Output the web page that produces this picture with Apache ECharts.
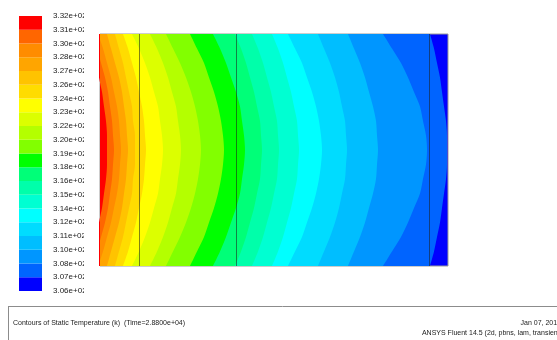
<!DOCTYPE html>
<html>
<head>
<meta charset="utf-8">
<script src="https://cdn.jsdelivr.net/npm/echarts@6/dist/echarts.min.js"></script>
<style>
  html, body { margin: 0; padding: 0; background: #ffffff; }
  #chart { width: 557px; height: 340px; }
</style>
</head>
<body>
<div id="chart"></div>
<script>
// Sample rows across the domain height, top wall to bottom wall
const rows = ['r00', 'r01', 'r02', 'r03', 'r04', 'r05', 'r06', 'r07', 'r08',
              'r09', 'r10', 'r11', 'r12', 'r13', 'r14', 'r15', 'r16'];

// Contour band colours, hottest (left wall) to coldest (right wall)
const bandColors = [
  '#ff0000', '#ff6600', '#ff8c00', '#ffa500', '#ffc300',
  '#ffdc00', '#ffff00', '#dcff00', '#b4ff00', '#82ff00',
  '#00ff00', '#00ff78', '#00ffaa', '#00ffd2', '#00ffff',
  '#00dcff', '#00beff', '#0096ff', '#0064ff', '#0000ff'
];

// Colour-bar labels, bottom to top (K)
const legendLabels = [
  '3.06e+02', '3.07e+02', '3.08e+02', '3.10e+02', '3.11e+02', '3.12e+02', '3.14e+02',
  '3.15e+02', '3.16e+02', '3.18e+02', '3.19e+02', '3.20e+02', '3.22e+02', '3.23e+02',
  '3.24e+02', '3.26e+02', '3.27e+02', '3.28e+02', '3.30e+02', '3.31e+02', '3.32e+02'
];

// Isotherm positions (distance from the left wall) on each sample row;
// isotherm k separates band k from band k+1
const iso01 = [-10, -7, -3, -1, 2, 4, 6, 7, 7, 7, 6, 4, 2, -1, -3, -7, -10];
const iso02 = [-8, -3, 1, 5, 8, 10, 12, 13, 14, 13, 12, 10, 8, 5, 1, -3, -8];
const iso03 = [-2, 3, 7, 11, 14, 17, 19, 20, 21, 20, 19, 17, 14, 11, 7, 3, -2];
const iso04 = [7, 11, 15, 19, 22, 24, 26, 27, 28, 27, 26, 24, 22, 19, 15, 11, 7];
const iso05 = [15, 19, 23, 26, 29, 32, 33, 35, 35, 35, 33, 32, 29, 26, 23, 19, 15];
const iso06 = [23, 28, 32, 36, 39, 42, 44, 45, 46, 45, 44, 42, 39, 36, 32, 28, 23];
const iso07 = [32, 39, 45, 50, 54, 58, 60, 62, 63, 62, 60, 58, 54, 50, 45, 39, 32];
const iso08 = [50, 57, 63, 68, 72, 76, 78, 80, 81, 80, 78, 76, 72, 68, 63, 57, 50];
const iso09 = [66, 73, 80, 86, 91, 95, 98, 100, 101, 100, 98, 95, 91, 86, 80, 73, 66];
const iso10 = [90, 97, 104, 109, 114, 118, 121, 123, 124, 123, 121, 118, 114, 109, 104, 97, 90];
const iso11 = [113, 120, 126, 131, 136, 140, 142, 144, 145, 144, 142, 140, 136, 131, 126, 120, 113];
const iso12 = [135, 141, 146, 150, 154, 157, 160, 161, 162, 161, 160, 157, 154, 150, 146, 141, 135];
const iso13 = [152, 158, 163, 167, 171, 174, 177, 178, 179, 178, 177, 174, 171, 167, 163, 158, 152];
const iso14 = [172, 178, 183, 187, 191, 194, 197, 198, 199, 198, 197, 194, 191, 187, 183, 178, 172];
const iso15 = [188, 195, 202, 207, 212, 216, 219, 221, 222, 221, 219, 216, 212, 207, 202, 195, 188];
const iso16 = [218, 224, 230, 235, 239, 242, 245, 246, 247, 246, 245, 242, 239, 235, 230, 224, 218];
const iso17 = [248, 254, 260, 265, 269, 273, 276, 277, 278, 277, 276, 273, 269, 265, 260, 254, 248];
const iso18 = [283, 292, 301, 308, 314, 320, 323, 326, 327, 326, 323, 320, 314, 308, 301, 292, 283];
const iso19 = [330, 334, 337, 340, 342, 344, 346, 347, 347, 347, 346, 344, 342, 340, 337, 334, 330];

// Interior zone boundaries of the mesh
const zoneEdges = [39, 136, 329];

// Domain width in the same units as the isotherm positions
const domainWidth = 348;

const footerTitle = 'Contours of Static Temperature (k)  (Time=2.8800e+04)';
const footerDate = 'Jan 07, 2014';
const footerSolver = 'ANSYS Fluent 14.5 (2d, pbns, lam, transient)';

const isotherms = [iso01, iso02, iso03, iso04, iso05, iso06, iso07, iso08, iso09, iso10,
                   iso11, iso12, iso13, iso14, iso15, iso16, iso17, iso18, iso19];

const FONT = '"Liberation Sans", Arial, sans-serif';

// Each isotherm fills from the left wall with its hot-side colour; colder ones are drawn first
const contourSeries = [];
for (let k = isotherms.length - 1; k >= 0; k--) {
  contourSeries.push({
    type: 'line',
    xAxisIndex: 0,
    yAxisIndex: 0,
    data: isotherms[k],
    smooth: 0.3,
    symbol: 'none',
    showSymbol: false,
    silent: true,
    lineStyle: { opacity: 0 },
    areaStyle: { color: bandColors[k], opacity: 1 }
  });
}
contourSeries[contourSeries.length - 1].markLine = {
  silent: true,
  symbol: 'none',
  animation: false,
  label: { show: false },
  lineStyle: { color: 'rgba(30,30,30,0.55)', width: 1, type: 'solid' },
  data: zoneEdges.map(x => ({ xAxis: x }))
};

// Colour bar: one stacked block per band, coldest at the bottom
const legendSeries = [];
for (let k = bandColors.length - 1; k >= 0; k--) {
  legendSeries.push({
    type: 'bar',
    xAxisIndex: 1,
    yAxisIndex: 1,
    stack: 'colourbar',
    barWidth: '100%',
    silent: true,
    data: [1],
    itemStyle: { color: bandColors[k] }
  });
}

const chart = echarts.init(document.getElementById('chart'), null, { renderer: 'canvas' });
chart.setOption({
  animation: false,
  backgroundColor: '#ffffff',
  grid: [
    {
      left: 100, top: 34, width: domainWidth, height: 232,
      show: true, backgroundColor: bandColors[bandColors.length - 1],
      borderColor: '#9a9a9a', borderWidth: 1
    },
    { left: 19, top: 16, width: 23, height: 275, show: false }
  ],
  xAxis: [
    { gridIndex: 0, type: 'value', min: 0, max: domainWidth, show: false },
    { gridIndex: 1, type: 'category', data: [''], show: false }
  ],
  yAxis: [
    { gridIndex: 0, type: 'category', data: rows, boundaryGap: false, inverse: true, show: false },
    {
      gridIndex: 1, type: 'value', min: 0, max: legendLabels.length - 1, interval: 1,
      position: 'right',
      axisLine: { show: false }, axisTick: { show: false }, splitLine: { show: false },
      axisLabel: {
        margin: 11, fontSize: 8, color: '#222222', fontFamily: FONT,
        formatter: v => legendLabels[v]
      }
    }
  ],
  series: contourSeries.concat(legendSeries),
  graphic: [
    // labels are clipped by the colour-bar viewport
    { type: 'rect', z: 100, shape: { x: 84, y: 0, width: 15, height: 300 }, style: { fill: '#ffffff' } },
    { type: 'line', z: 100, shape: { x1: 8, y1: 306.5, x2: 557, y2: 306.5 }, style: { stroke: '#8c8c8c', lineWidth: 1 } },
    { type: 'line', z: 100, shape: { x1: 8.5, y1: 306, x2: 8.5, y2: 340 }, style: { stroke: '#8c8c8c', lineWidth: 1 } },
    { type: 'text', z: 100, style: { x: 13, y: 323, text: footerTitle, font: '7px ' + FONT, fill: '#222222', align: 'left', verticalAlign: 'middle' } },
    { type: 'text', z: 100, style: { x: 561, y: 323, text: footerDate, font: '7px ' + FONT, fill: '#222222', align: 'right', verticalAlign: 'middle' } },
    { type: 'text', z: 100, style: { x: 562, y: 333, text: footerSolver, font: '7px ' + FONT, fill: '#222222', align: 'right', verticalAlign: 'middle' } }
  ]
});
</script>
</body>
</html>
